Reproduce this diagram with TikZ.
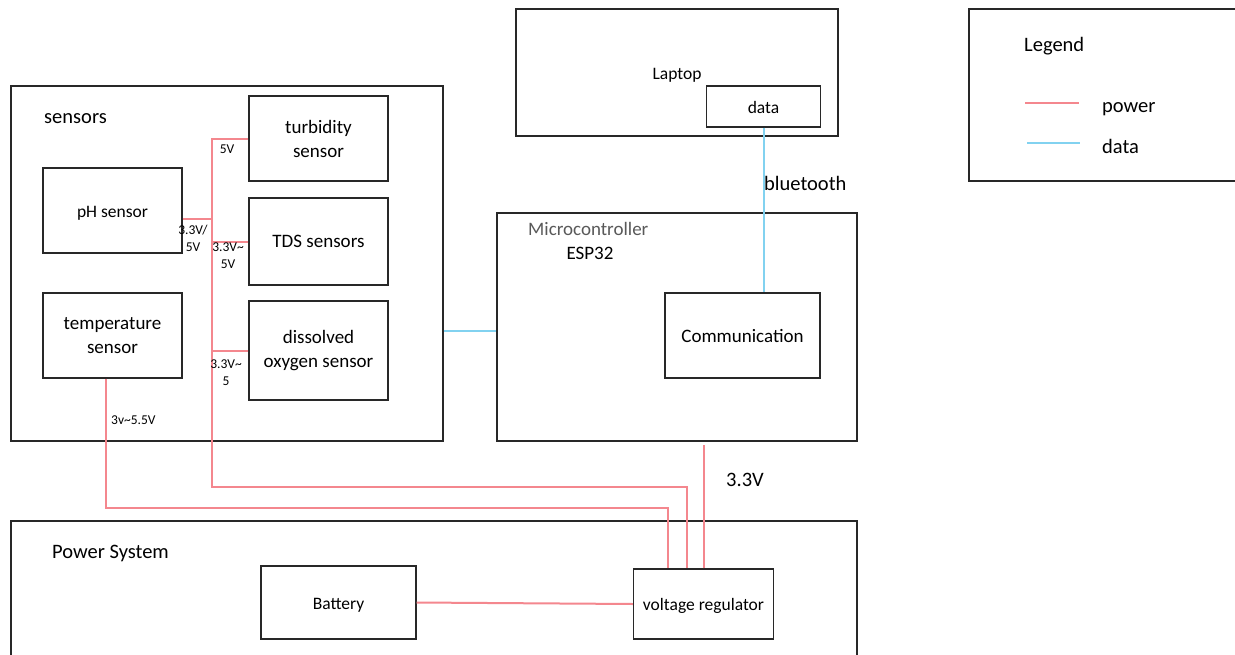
\documentclass[tikz,border=0pt]{standalone}
\usepackage{fontspec}
\setmainfont{Carlito}
\definecolor{pwr}{RGB}{244,135,142}
\definecolor{dat}{RGB}{130,210,240}
\definecolor{edge}{RGB}{40,40,40}
\begin{document}
\begin{tikzpicture}[x=1pt,y=-1pt,
  box/.style={draw=edge,line width=1.2pt,inner sep=0pt,align=center,font=\fontsize{17.5}{23}\selectfont},
  bigbox/.style={box},
  lo/.style={text height=17pt,text depth=3.5pt},
  pw/.style={draw=pwr,line width=2pt},
  dt/.style={draw=dat,line width=2pt},
  small/.style={font=\fontsize{13.5}{17}\selectfont,inner sep=0pt,align=center},
  big/.style={font=\fontsize{20.5}{24}\selectfont,inner sep=0pt},
  mid/.style={font=\fontsize{19}{23}\selectfont,inner sep=0pt,align=center}]
\clip (0,0) rectangle (1235,654);
\fill[white] (0,0) rectangle (1235,654);
% outer boxes
\node[bigbox,minimum width=432pt,minimum height=355pt] (sensors) at (227,263.5) {};
\node[bigbox,minimum width=360pt,minimum height=228pt] (mcu) at (677,327) {};
\node[bigbox,lo,minimum width=322pt,minimum height=127pt] (laptop) at (677,72.5) {Laptop};
\node[bigbox,minimum width=275pt,minimum height=172pt] (legend) at (1106.5,95) {};
\node[bigbox,minimum width=846pt,minimum height=150pt] (power) at (434,596) {};
% inner boxes
\node[box,lo,minimum width=139pt,minimum height=85pt] (ph) at (112.5,210.5) {pH sensor};
\node[box,minimum width=139pt,minimum height=85pt,font=\fontsize{19}{24}\selectfont] (temp) at (112.5,335.5) {temperature\\sensor};
\node[box,minimum width=139pt,minimum height=85pt,font=\fontsize{19}{24}\selectfont] (turb) at (318.5,138.5) {turbidity\\sensor};
\node[box,minimum width=139pt,minimum height=87pt,font=\fontsize{19}{24}\selectfont] (tds) at (318.5,241.5) {TDS sensors};
\node[box,minimum width=139pt,minimum height=99pt,font=\fontsize{19}{24}\selectfont] (do) at (318.5,350.5) {dissolved\\oxygen sensor};
\node[box,minimum width=155pt,minimum height=85pt,font=\fontsize{19}{24}\selectfont] (comm) at (742.5,335.5) {Communication};
\node[box,lo,minimum width=114pt,minimum height=41pt] (data) at (763.5,106.5) {data};
\node[box,lo,minimum width=155pt,minimum height=73pt] (bat) at (338.5,602.5) {Battery};
\node[box,lo,minimum width=140pt,minimum height=70pt] (vreg) at (703.5,604) {voltage regulator};
% titles
\node[big,anchor=west] (tsens) at (44,119) {sensors};
\node[big,anchor=west] (tpow) at (52,553) {Power System};
\node[mid,anchor=west,text=black!65] (tmcu) at (528,229) {Microcontroller};
\node[mid] (tesp) at (590,253) {ESP32};
\node[big,anchor=west] (tlegend) at (1024,46) {Legend};
% bus coordinates
\coordinate (btop) at (211.5,138.5);
\coordinate (bbot) at (211.5,486.5);
\coordinate (tbot) at (105.5,507.5);
% power connectors
\draw[pw] (turb.west) -- (btop) -- (bbot) -| ([xshift=-17pt]vreg.north);
\draw[pw] ([yshift=-8pt]ph.east) -- ([yshift=-8pt]ph.east -| btop);
\draw[pw] (tds.west) -- (tds.west -| btop);
\draw[pw] (do.west) -- (do.west -| btop);
\draw[pw] ([xshift=-7pt]temp.south) -- (tbot) -| ([xshift=-36pt]vreg.north);
\draw[pw] (vreg.north) -- ([yshift=-3pt]vreg.north |- mcu.south);
\draw[pw] (bat.east) -- (vreg.west);
% data connectors
\draw[dt] (sensors.east |- 0,330.5) -- (mcu.west |- 0,330.5);
\draw[dt] (data.south) -- (data.south |- comm.north);
% labels
\node[small] (l5v) at (227,149) {5V};
\node[small] (l33a) at (193,238) {3.3V/\\5V};
\node[small] (l33b) at (228,256) {3.3V\textasciitilde\\5V};
\node[small] (l33c) at (226,373) {3.3V\textasciitilde\\5};
\node[small,anchor=west] (l3v) at (111,420) {3v\textasciitilde5.5V};
\node[big,anchor=west] (lbt) at (764,183) {bluetooth};
\node[big,anchor=west] (l33) at (726,480) {3.3V};
% legend
\coordinate (lp1) at (1025,102.5);
\coordinate (lp2) at (1079,102.5);
\coordinate (ld1) at (1027,142.5);
\coordinate (ld2) at (1080,142.5);
\draw[pw] (lp1) -- (lp2);
\draw[dt] (ld1) -- (ld2);
\node[big,anchor=west] (lpow) at (1102,109) {power};
\node[big,anchor=west] (ldat) at (1102,146) {data};
\end{tikzpicture}
\end{document}
